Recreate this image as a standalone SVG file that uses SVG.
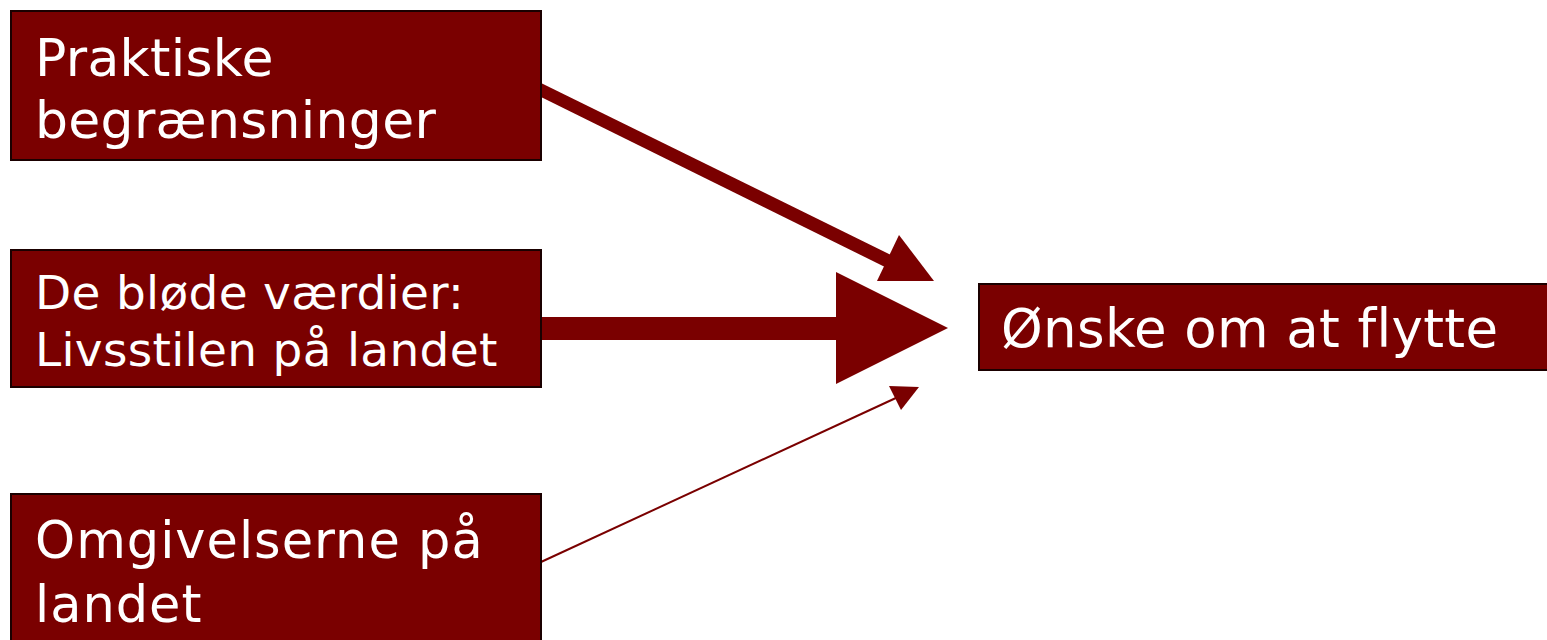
<svg xmlns="http://www.w3.org/2000/svg" width="1547" height="640" viewBox="0 0 1547 640">
<style>
.box{fill:#7a0000;stroke:#1a0000;stroke-width:2}
.t{font-family:"DejaVu Sans",sans-serif;fill:#ffffff}
.a{fill:#7a0000}
</style>
<rect width="1547" height="640" fill="#ffffff"/>
<g id="connectors">
<g id="c1"><polygon class="a" points="541,83 891,255 885,267 541,97"/><polygon class="a" points="899,235 934,281 877,281"/></g>
<g id="c2"><rect class="a" x="541" y="317" width="296" height="23"/><polygon class="a" points="836,272 948,328 836,384"/></g>
<g id="c3"><line x1="541" y1="562" x2="898" y2="397" stroke="#7a0000" stroke-width="2"/><polygon class="a" points="889,386 919,387 901,410"/></g>
</g>
<g id="n1"><rect class="box" x="11" y="11" width="530" height="149"/><text class="t" font-size="52" letter-spacing="0.3"><tspan x="35" y="76">Praktiske</tspan><tspan x="35" y="138">begrænsninger</tspan></text></g>
<g id="n2"><rect class="box" x="11" y="250" width="530" height="137"/><text class="t" font-size="47" letter-spacing="0.3"><tspan x="35" y="309">De bløde værdier:</tspan><tspan x="35" y="366">Livsstilen på landet</tspan></text></g>
<g id="n3"><rect class="box" x="11" y="494" width="530" height="150"/><text class="t" font-size="51" letter-spacing="1"><tspan x="35" y="558">Omgivelserne på</tspan><tspan x="35" y="622">landet</tspan></text></g>
<g id="n4"><rect class="box" x="979" y="284" width="570" height="86"/><text class="t" font-size="53" letter-spacing="0.35" x="1001" y="347">Ønske om at flytte</text></g>
</svg>
